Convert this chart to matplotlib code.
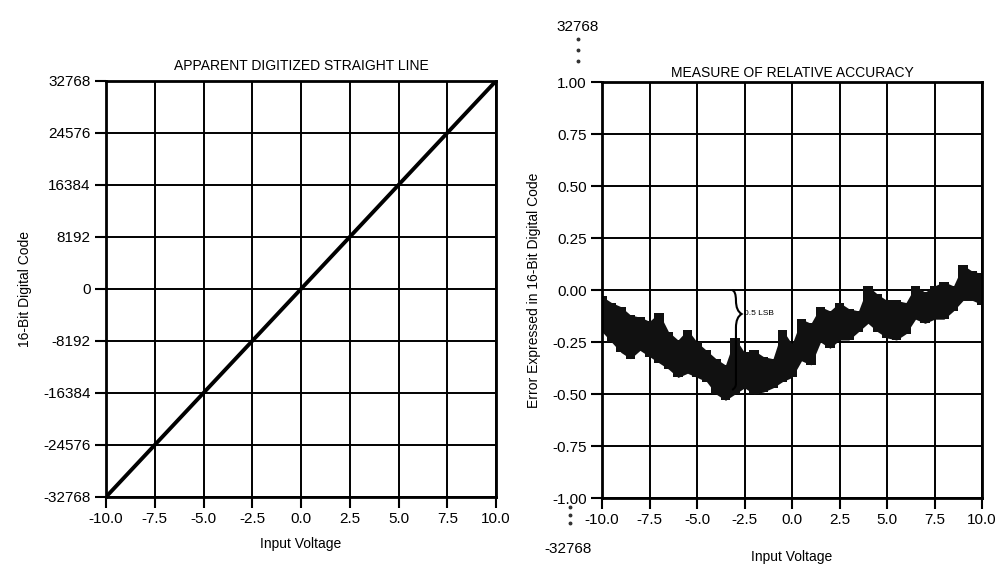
import matplotlib
matplotlib.use("Agg")
import matplotlib.pyplot as plt
from matplotlib.lines import Line2D
from matplotlib.path import Path
from matplotlib.patches import PathPatch


plt.rcParams['font.family'] = ['Liberation Sans', 'DejaVu Sans']

# Left panel: ideal transfer line
line_volts = [-10.0, 10.0]
line_codes = [-32768, 32768]
code_ticks = [-32768, -24576, -16384, -8192, 0, 8192, 16384, 24576, 32768]
volt_ticks = [-10.0, -7.5, -5.0, -2.5, 0.0, 2.5, 5.0, 7.5, 10.0]

# Right panel: error trace envelope (in LSB)
err_volts = [-10.0, -9.5, -9.0, -8.5, -8.0, -7.5, -7.0, -6.5, -6.0, -5.5,
             -5.0, -4.5, -4.0, -3.5, -3.0, -2.5, -2.0, -1.5, -1.0, -0.5,
             0.0, 0.5, 1.0, 1.5, 2.0, 2.5, 3.0, 3.5, 4.0, 4.5,
             5.0, 5.5, 6.0, 6.5, 7.0, 7.5, 8.0, 8.5, 9.0, 9.5, 10.0]
err_upper = [-0.03, -0.06, -0.08, -0.12, -0.13, -0.15, -0.11, -0.20, -0.24, -0.19,
             -0.25, -0.29, -0.33, -0.36, -0.23, -0.30, -0.29, -0.32, -0.33, -0.19,
             -0.26, -0.14, -0.16, -0.08, -0.10, -0.06, -0.09, -0.10, 0.02, -0.02,
             -0.05, -0.05, -0.06, 0.02, -0.01, 0.02, 0.04, 0.02, 0.12, 0.09, 0.08]
err_lower = [-0.20, -0.25, -0.30, -0.33, -0.29, -0.32, -0.35, -0.38, -0.42, -0.40,
             -0.42, -0.44, -0.50, -0.53, -0.50, -0.47, -0.50, -0.49, -0.47, -0.44,
             -0.42, -0.34, -0.36, -0.25, -0.28, -0.24, -0.24, -0.20, -0.16, -0.20,
             -0.23, -0.24, -0.21, -0.14, -0.16, -0.14, -0.14, -0.10, -0.05, -0.05, -0.07]
err_ticks = [-1.00, -0.75, -0.50, -0.25, 0.00, 0.25, 0.50, 0.75, 1.00]


fig = plt.figure(figsize=(10, 5.66), dpi=100)

ax1 = fig.add_axes([0.106, 0.122, 0.390, 0.735])
ax2 = fig.add_axes([0.602, 0.120, 0.380, 0.735])


def style_axes(ax):
    ax.grid(True, color='black', linewidth=1.4)
    ax.set_axisbelow(True)
    for s in ax.spines.values():
        s.set_linewidth(2.0)
    ax.tick_params(direction='out', length=8, width=1.5, labelsize=11, pad=3)
    ax.set_xticks(volt_ticks)
    ax.set_xticklabels([f"{v:.1f}" for v in volt_ticks])
    ax.set_xlim(-10, 10)


# Left panel
style_axes(ax1)
ax1.plot(line_volts, line_codes, color='black', linewidth=2.8)
ax1.set_ylim(-32768, 32768)
ax1.set_yticks(code_ticks)
ax1.set_yticklabels([str(c) for c in code_ticks])
ax1.set_title("APPARENT DIGITIZED STRAIGHT LINE", fontsize=10, pad=8)
ax1.set_xlabel("Input Voltage", fontsize=10, labelpad=8)
ax1.set_ylabel("16-Bit Digital Code", fontsize=10, labelpad=8)

# Right panel: noisy error band (linear + stepped fill gives ragged edges)
style_axes(ax2)
ax2.fill_between(err_volts, err_lower, err_upper, color='#111111', linewidth=0)
ax2.fill_between(err_volts, err_lower, err_upper, step='mid', color='#111111', linewidth=0)
ax2.set_ylim(-1.0, 1.0)
ax2.set_yticks(err_ticks)
ax2.set_yticklabels([f"{v:.2f}" for v in err_ticks])
ax2.set_title("MEASURE OF RELATIVE ACCURACY", fontsize=10, pad=4)
ax2.set_xlabel("Input Voltage", fontsize=10, labelpad=16)
ax2.set_ylabel("Error Expressed in 16-Bit Digital Code", fontsize=10, labelpad=8)

# 0.5 LSB brace
verts = [(-3.15, 0.0), (-2.95, -0.005), (-2.95, -0.05),
         (-2.95, -0.10), (-2.65, -0.115),
         (-2.95, -0.13), (-2.95, -0.18),
         (-2.95, -0.45), (-2.95, -0.47), (-3.15, -0.48)]
codes = [Path.MOVETO, Path.CURVE3, Path.CURVE3,
         Path.CURVE3, Path.CURVE3,
         Path.CURVE3, Path.CURVE3,
         Path.LINETO, Path.CURVE3, Path.CURVE3]
ax2.add_patch(PathPatch(Path(verts, codes), facecolor='none', edgecolor='black', linewidth=1.5))
ax2.text(-2.55, -0.115, "0.5 LSB", fontsize=6, va='center', ha='left')

# full-scale notes beside the right axis
fig.text(0.599, 0.952, "32768", fontsize=11, ha='right', va='center')
fig.text(0.592, 0.030, "-32768", fontsize=11, ha='right', va='center')
fig.add_artist(Line2D([0.578, 0.578, 0.578], [0.931, 0.912, 0.893], linestyle='none',
                      marker='o', markersize=1.8, color='#333333', transform=fig.transFigure))
fig.add_artist(Line2D([0.570, 0.570, 0.570], [0.104, 0.090, 0.076], linestyle='none',
                      marker='o', markersize=1.8, color='#333333', transform=fig.transFigure))

fig.savefig("out.png", dpi=100)
